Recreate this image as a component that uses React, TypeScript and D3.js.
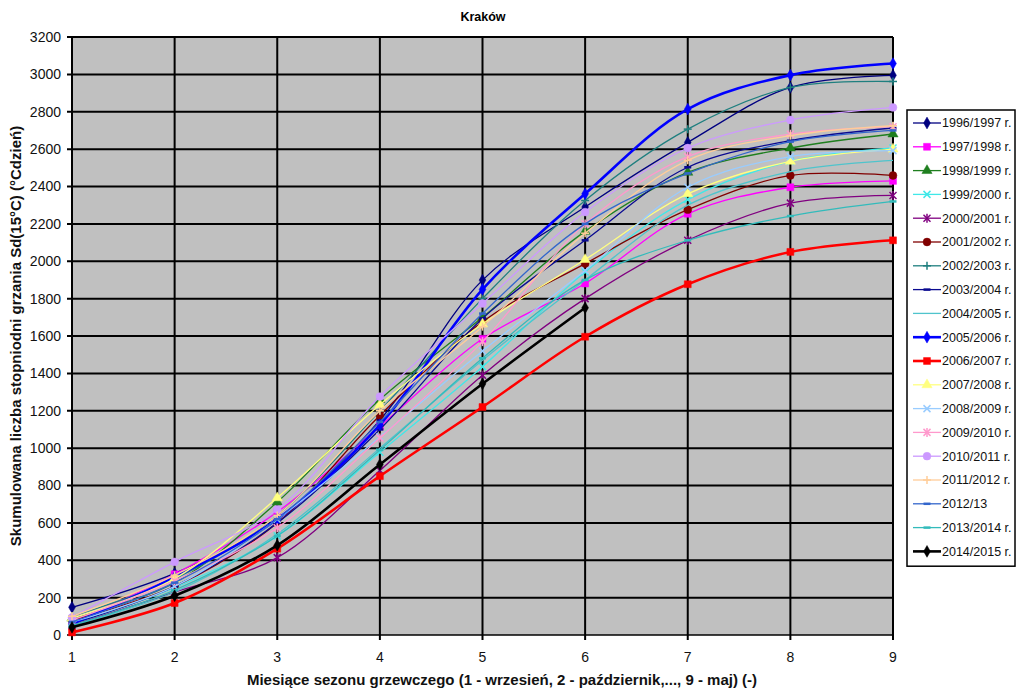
import React from "react";
import * as d3 from "d3";

const months = [1, 2, 3, 4, 5, 6, 7, 8, 9];
const yTicks = [0, 200, 400, 600, 800, 1000, 1200, 1400, 1600, 1800, 2000, 2200, 2400, 2600, 2800, 3000, 3200];

const seriesNames = [
  "1996/1997 r.", "1997/1998 r.", "1998/1999 r.", "1999/2000 r.", "2000/2001 r.",
  "2001/2002 r.", "2002/2003 r.", "2003/2004 r.", "2004/2005 r.", "2005/2006 r.",
  "2006/2007 r.", "2007/2008 r.", "2008/2009 r.", "2009/2010 r.", "2010/2011 r.",
  "2011/2012 r.", "2012/13", "2013/2014 r.", "2014/2015 r.",
];

const v1996 = [148, 330, 620, 1150, 1899, 2290, 2636, 2930, 2995];
const v1997 = [70, 325, 658, 1116, 1585, 1881, 2254, 2396, 2430];
const v1998 = [90, 280, 711, 1260, 1700, 2160, 2476, 2606, 2681];
const v1999 = [60, 254, 530, 978, 1436, 1943, 2330, 2535, 2606];
const v2000 = [50, 230, 414, 880, 1390, 1800, 2112, 2311, 2352];
const v2001 = [80, 260, 600, 1175, 1676, 1987, 2276, 2459, 2459];
const v2002 = [100, 300, 640, 1200, 1800, 2325, 2707, 2930, 2962];
const v2003 = [60, 260, 600, 1100, 1694, 2112, 2503, 2645, 2713];
const v2004 = [50, 230, 540, 1000, 1470, 1900, 2300, 2480, 2540];
const v2005 = [60, 310, 620, 1125, 1849, 2361, 2814, 2996, 3058];
const v2006 = [14, 171, 462, 850, 1220, 1596, 1877, 2050, 2112];
const v2007 = [90, 302, 734, 1232, 1664, 2009, 2361, 2535, 2600];
const v2008 = [70, 260, 619, 1060, 1520, 1950, 2396, 2560, 2592];
const v2009 = [80, 290, 574, 1054, 1570, 2200, 2560, 2680, 2720];
const v2010 = [94, 391, 672, 1276, 1774, 2263, 2606, 2756, 2823];
const v2011 = [100, 320, 640, 1200, 1650, 2150, 2540, 2672, 2725];
const v2012 = [70, 280, 620, 1140, 1720, 2200, 2470, 2640, 2700];
const v2013 = [50, 240, 530, 990, 1481, 1900, 2112, 2242, 2320];
const v2014 = [41, 210, 480, 912, 1344, 1751];

const seriesValues = [v1996, v1997, v1998, v1999, v2000, v2001, v2002, v2003, v2004, v2005, v2006, v2007, v2008, v2009, v2010, v2011, v2012, v2013, v2014];

const seriesColors = [
  "#000080", "#FF00FF", "#1F7F1F", "#40E8E8", "#800080",
  "#800000", "#1F7F7F", "#0A0A90", "#4FC4CC", "#0000FF",
  "#FF0000", "#FFFF80", "#99CCFF", "#FF99CC", "#CC99FF",
  "#FFCC99", "#3366CC", "#33BBBB", "#000000",
];
const seriesMarkers = [
  "diamond", "square", "triangle", "times", "star",
  "circle", "plus", "dash", "none", "diamond",
  "square", "triangle", "times", "star", "circle",
  "plus", "dash", "dash", "diamond",
];
const seriesWidths = [1.3, 1.3, 1.3, 1.3, 1.3, 1.3, 1.3, 1.3, 1.3, 2.6, 2.6, 1.3, 1.3, 1.3, 1.3, 1.3, 1.3, 1.3, 2.6];

const FONT = "'Liberation Sans', Arial, sans-serif";

function Marker({ type, cx, cy, color }: { type: string; cx: number; cy: number; color: string }) {
  if (type === "none") return null;
  if (type === "dash") {
    return <line x1={cx - 3.5} x2={cx + 3.5} y1={cy} y2={cy} stroke={color} strokeWidth={2.5} />;
  }
  if (type === "times") {
    const s = 3.5;
    return (
      <g stroke={color} strokeWidth={1.5}>
        <line x1={cx - s} y1={cy - s} x2={cx + s} y2={cy + s} />
        <line x1={cx - s} y1={cy + s} x2={cx + s} y2={cy - s} />
      </g>
    );
  }
  if (type === "star") {
    const s = 3.5;
    return (
      <g stroke={color} strokeWidth={1.5}>
        <line x1={cx - s} y1={cy - s} x2={cx + s} y2={cy + s} />
        <line x1={cx - s} y1={cy + s} x2={cx + s} y2={cy - s} />
        <line x1={cx} y1={cy - s - 1} x2={cx} y2={cy + s + 1} />
      </g>
    );
  }
  if (type === "plus") {
    const s = 4;
    return (
      <g stroke={color} strokeWidth={1.5}>
        <line x1={cx - s} y1={cy} x2={cx + s} y2={cy} />
        <line x1={cx} y1={cy - s} x2={cx} y2={cy + s} />
      </g>
    );
  }
  const symType =
    type === "diamond" ? d3.symbolDiamond :
    type === "square" ? d3.symbolSquare :
    type === "triangle" ? d3.symbolTriangle :
    d3.symbolCircle;
  const size = type === "diamond" ? 40 : type === "triangle" ? 45 : 48;
  const p = d3.symbol().type(symType).size(size)() as string;
  return <path d={p} transform={`translate(${cx},${cy})`} fill={color} stroke={color} strokeWidth={0.5} />;
}

export default function App() {
  const W = 1024, H = 695;
  const x = d3.scaleLinear().domain([1, 9]).range([72, 893]);
  const y = d3.scaleLinear().domain([0, 3200]).range([635, 37]);
  const line = d3
    .line<number>()
    .x((_, i) => x(months[i]))
    .y((d) => y(d))
    .curve(d3.curveCatmullRom.alpha(0.5));

  const legX = 907, legY = 110, legW = 108, legStep = 23.8;
  const legH = legStep * seriesNames.length + 4;

  return (
    <svg width={W} height={H} style={{ position: "absolute", left: 0, top: 0, background: "#fff" }} fontFamily={FONT}>
      <rect x={0} y={0} width={W} height={H} fill="#fff" />
      <text x={483} y={21} textAnchor="middle" fontWeight="bold" fontSize={12.5}>Kraków</text>
      <rect x={x(1)} y={y(3200)} width={x(9) - x(1)} height={y(0) - y(3200)} fill="#C0C0C0" />
      {yTicks.map((t) => (
        <g key={"y" + t}>
          <line x1={x(1) - 5} x2={x(9)} y1={y(t)} y2={y(t)} stroke="#000" strokeWidth={t === 0 ? 1.5 : 2} />
          <text x={61} y={y(t)} dy="0.35em" textAnchor="end" fontSize={14} fill="#111">{t}</text>
        </g>
      ))}
      {months.map((m) => (
        <g key={"x" + m}>
          <line x1={x(m)} x2={x(m)} y1={y(3200)} y2={y(0) + 5} stroke="#000" strokeWidth={2} />
          <text x={x(m)} y={657} dy="0.35em" textAnchor="middle" fontSize={14} fill="#111">{m}</text>
        </g>
      ))}
      {seriesValues.map((vals, si) => (
        <g key={"s" + si}>
          <path d={line(vals) as string} fill="none" stroke={seriesColors[si]} strokeWidth={seriesWidths[si]} />
          {vals.map((v, i) => (
            <Marker key={i} type={seriesMarkers[si]} cx={x(months[i])} cy={y(v)} color={seriesColors[si]} />
          ))}
        </g>
      ))}
      <text
        transform={`translate(21,${(y(0) + y(3200)) / 2}) rotate(-90)`}
        textAnchor="middle"
        fontWeight="bold"
        fontSize={15}
        fill="#111"
      >
        Skumulowana liczba stopniodni grzania Sd(15°C) (°Cdzień)
      </text>
      <text x={502} y={685} textAnchor="middle" fontWeight="bold" fontSize={15} fill="#111">
        Miesiące sezonu grzewczego (1 - wrzesień, 2 - październik,..., 9 - maj) (-)
      </text>
      <rect x={legX} y={legY} width={legW} height={legH} fill="#fff" stroke="#000" strokeWidth={1.5} />
      {seriesNames.map((n, i) => {
        const cy = legY + 13 + i * legStep;
        return (
          <g key={"l" + i}>
            <line x1={913} x2={941} y1={cy} y2={cy} stroke={seriesColors[i]} strokeWidth={seriesWidths[i]} />
            <Marker type={seriesMarkers[i]} cx={927} cy={cy} color={seriesColors[i]} />
            <text x={942} y={cy} dy="0.35em" fontSize={12.5} fill="#111">{n}</text>
          </g>
        );
      })}
    </svg>
  );
}
